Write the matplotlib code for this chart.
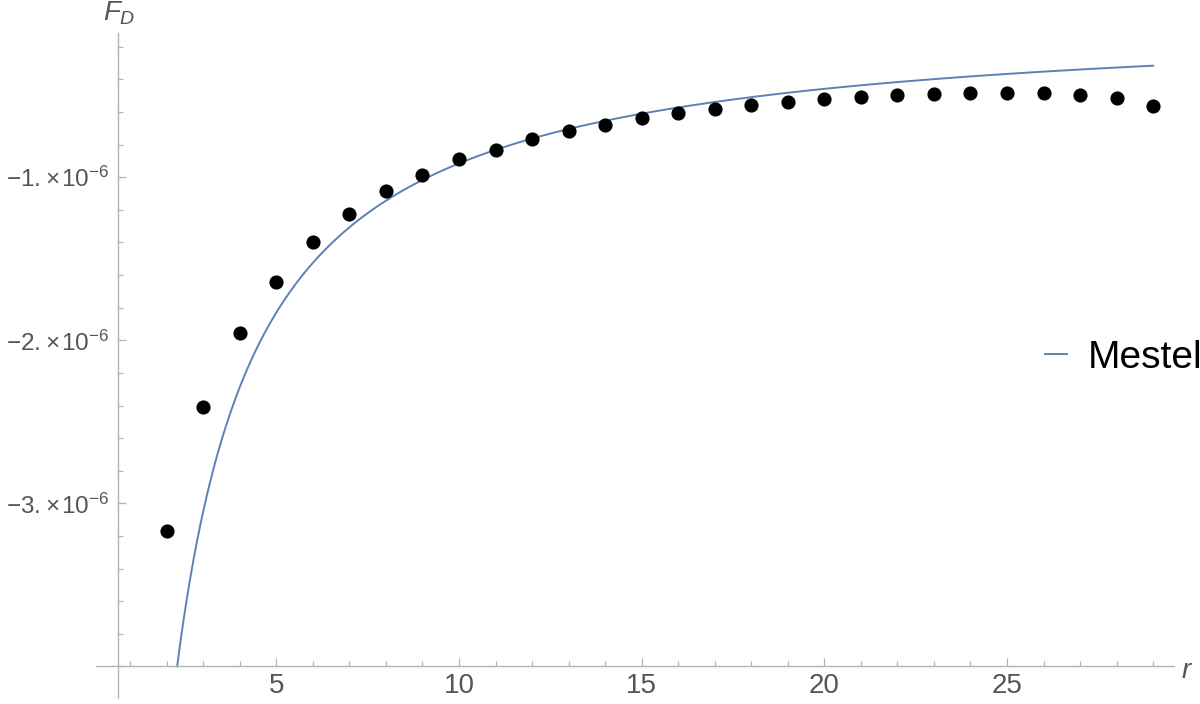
import numpy as np
import matplotlib
matplotlib.use("Agg")
import matplotlib.pyplot as plt
from matplotlib.lines import Line2D
from matplotlib.ticker import MultipleLocator, FuncFormatter, FixedLocator

plt.rcParams['font.family'] = ['Liberation Sans', 'DejaVu Sans']
plt.rcParams['mathtext.fontset'] = 'custom'
plt.rcParams['mathtext.rm'] = 'Liberation Sans'
plt.rcParams['mathtext.it'] = 'Liberation Sans:italic'

# ---- data ----
r_points = [2, 3, 4, 5, 6, 7, 8, 9, 10, 11, 12, 13, 14, 15, 16,
            17, 18, 19, 20, 21, 22, 23, 24, 25, 26, 27, 28, 29]
fd_points = [-3.170e-6, -2.407e-6, -1.957e-6, -1.642e-6, -1.395e-6, -1.227e-6,
             -1.087e-6, -0.986e-6, -0.890e-6, -0.833e-6, -0.765e-6, -0.718e-6,
             -0.679e-6, -0.638e-6, -0.607e-6, -0.583e-6, -0.556e-6, -0.536e-6,
             -0.521e-6, -0.509e-6, -0.495e-6, -0.489e-6, -0.481e-6, -0.481e-6,
             -0.481e-6, -0.495e-6, -0.515e-6, -0.563e-6]
mestel_coeff = 9.15e-6          # Mestel: F_D = -coeff / r
mestel_r_max = 29.0
y_floor = -4.0e-6               # lower plot-range limit (x axis position)
x_ticks_major = [5, 10, 15, 20, 25]
y_ticks_major = [-3e-6, -2e-6, -1e-6]
legend_label = "Mestel"

# ---- figure ----
W, H = 1200, 704
fig = plt.figure(figsize=(W / 100, H / 100), dpi=100)
ax = fig.add_axes([96 / W, (H - 698) / H, 1078 / W, 665 / H])
ax.set_xlim(0.066, 29.57)
ax.set_ylim(-4.194e-6, -0.115e-6)

line_color = '#5E81B5'
axis_color = '#B3B3B3'
label_color = '#555555'

r_curve = np.linspace(mestel_coeff / -y_floor, mestel_r_max, 600)
ax.plot(r_curve, -mestel_coeff / r_curve, color=line_color, lw=1.4, zorder=2)
ax.plot(r_points, fd_points, 'o', color='black', ms=10.2, mew=0, zorder=3)

# axes styling (Mathematica-like crossing axes)
for s in ['top', 'right']:
    ax.spines[s].set_visible(False)
ax.spines['left'].set_position(('data', 0.668))
ax.spines['bottom'].set_position(('data', y_floor))
for s in ['left', 'bottom']:
    ax.spines[s].set_color(axis_color)
    ax.spines[s].set_linewidth(1.0)
ax.spines['left'].set_bounds(*ax.get_ylim())
ax.spines['bottom'].set_bounds(*ax.get_xlim())

ax.xaxis.set_major_locator(FixedLocator(x_ticks_major))
ax.xaxis.set_minor_locator(MultipleLocator(1))
ax.yaxis.set_major_locator(FixedLocator(y_ticks_major))
ax.yaxis.set_minor_locator(MultipleLocator(0.2e-6))

def yfmt(v, pos):
    m = int(round(v / 1e-6))
    return '\u2212%d.\u2009\u00d7\u200a10$^{\u2212\\mathregular{6}}$' % abs(m)

ax.yaxis.set_major_formatter(FuncFormatter(yfmt))
ax.tick_params(which='both', direction='in', color=axis_color, width=0.9,
               labelcolor=label_color)
ax.tick_params(axis='x', labelsize=20, pad=5)
ax.tick_params(axis='y', labelsize=17.5, pad=6)
ax.tick_params(which='major', length=6)
ax.tick_params(which='minor', length=3.5)

# axis labels
fig.text(103 / W, 1 - 13 / H, r'$F_D$', fontsize=20, color=label_color,
         ha='left', va='center')
fig.text(1182 / W, 1 - 671 / H, 'r', fontsize=20, style='italic',
         color=label_color, ha='left', va='center')

# legend
handle = Line2D([], [], color=line_color, lw=1.4)
fig.legend([handle], [legend_label], loc='center left',
           bbox_to_anchor=(1045 / W, 1 - 358 / H), frameon=False,
           borderpad=0, borderaxespad=0, handlelength=0.56,
           handletextpad=0.54, fontsize=28)

fig.savefig('out.png', dpi=100)
